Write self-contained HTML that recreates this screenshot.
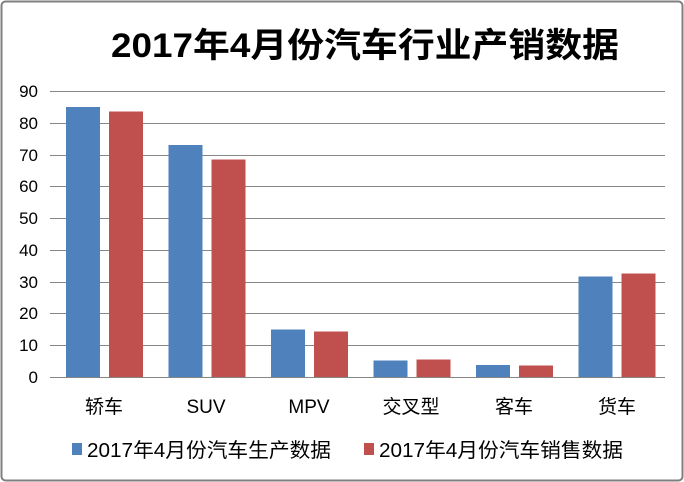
<!DOCTYPE html>
<html><head><meta charset="utf-8"><style>
html,body{margin:0;padding:0;background:#fff}
svg{display:block}
text{font-family:"Liberation Sans","Noto Sans CJK SC",sans-serif}
</style></head><body>
<svg width="684" height="482" xmlns="http://www.w3.org/2000/svg">
<rect x="1.5" y="1.5" width="681" height="479" rx="4" fill="#fff" stroke="#7f7f7f" stroke-width="2"/>
<text x="111" y="57" font-size="34" font-weight="bold" fill="#000" textLength="508" lengthAdjust="spacingAndGlyphs">2017年4月份汽车行业产销数据</text>
<g stroke="#868686" stroke-width="1">
<line x1="50" x2="665" y1="91.5" y2="91.5"/>
<line x1="50" x2="665" y1="123.5" y2="123.5"/>
<line x1="50" x2="665" y1="155.5" y2="155.5"/>
<line x1="50" x2="665" y1="186.5" y2="186.5"/>
<line x1="50" x2="665" y1="218.5" y2="218.5"/>
<line x1="50" x2="665" y1="250.5" y2="250.5"/>
<line x1="50" x2="665" y1="282.5" y2="282.5"/>
<line x1="50" x2="665" y1="313.5" y2="313.5"/>
<line x1="50" x2="665" y1="345.5" y2="345.5"/>
<line x1="50" x2="665" y1="377.5" y2="377.5"/>
</g>
<g font-size="17" fill="#000" text-anchor="end">
<text x="38" y="97">90</text><text x="38" y="129">80</text><text x="38" y="161">70</text>
<text x="38" y="192">60</text><text x="38" y="224">50</text><text x="38" y="256">40</text>
<text x="38" y="288">30</text><text x="38" y="319">20</text><text x="38" y="351">10</text>
<text x="38" y="383">0</text>
</g>
<g fill="#4f81bd">
<rect x="66" y="107" width="34" height="270"/>
<rect x="168.5" y="145" width="34" height="232"/>
<rect x="271" y="329.5" width="34" height="47.5"/>
<rect x="373.5" y="360.5" width="34" height="16.5"/>
<rect x="476" y="365" width="34" height="12"/>
<rect x="578.5" y="276.5" width="34" height="100.5"/>
</g>
<g fill="#c0504d">
<rect x="109" y="111.5" width="34" height="265.5"/>
<rect x="211.5" y="159.5" width="34" height="217.5"/>
<rect x="314" y="331.5" width="34" height="45.5"/>
<rect x="416.5" y="359.5" width="34" height="17.5"/>
<rect x="519" y="365.5" width="34" height="11.5"/>
<rect x="621.5" y="273.5" width="34" height="103.5"/>
</g>
<g font-size="19" fill="#000" text-anchor="middle">
<text x="104" y="413">轿车</text><text x="206" y="413">SUV</text><text x="309" y="413">MPV</text>
<text x="411" y="413">交叉型</text><text x="514" y="413">客车</text><text x="617" y="413">货车</text>
</g>
<rect x="72" y="443" width="10" height="12" fill="#4f81bd"/>
<text x="87" y="457" font-size="20" fill="#000" textLength="244" lengthAdjust="spacingAndGlyphs">2017年4月份汽车生产数据</text>
<rect x="364" y="443" width="10" height="12" fill="#c0504d"/>
<text x="379" y="457" font-size="20" fill="#000" textLength="244" lengthAdjust="spacingAndGlyphs">2017年4月份汽车销售数据</text>
</svg>
</body></html>
